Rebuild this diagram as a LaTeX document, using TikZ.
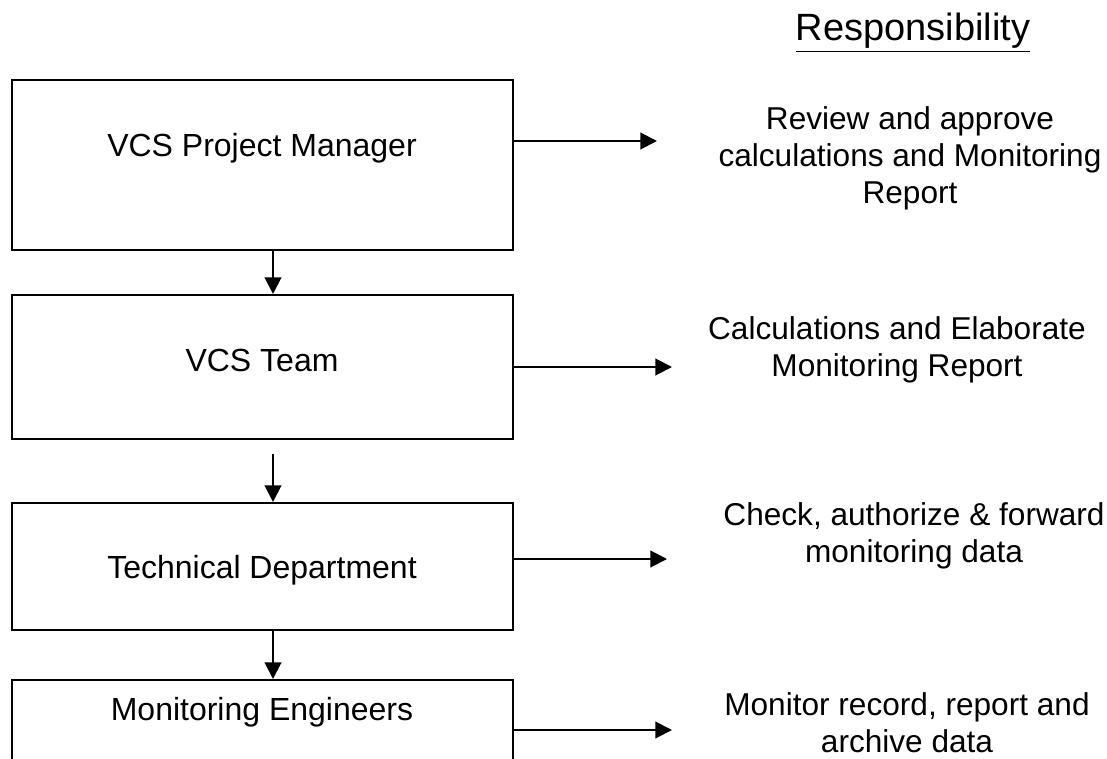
\documentclass[tikz,border=0pt]{standalone}
\usepackage{fontspec}
\setmainfont{Liberation Sans}
\usetikzlibrary{arrows.meta}
\begin{document}
\begin{tikzpicture}[x=0.5pt,y=-0.5pt,
  box/.style={draw, line width=1pt, rectangle, inner sep=0pt, minimum width=250.5pt, anchor=north west},
  boxtext/.style={font=\fontsize{16}{18.5}\selectfont, anchor=base, inner sep=0pt},
  resp/.style={font=\fontsize{15.8}{18.5}\selectfont, align=center, anchor=base, inner sep=0pt},
  arr/.style={-{Triangle[length=8.3pt,width=8.3pt]}, line width=1pt},
]
\clip (0,0) rectangle (1107,759);
% boxes
\node[box, minimum height=85pt] (b1) at (11,79) {};
\node[box, minimum height=72pt] (b2) at (11,294) {};
\node[box, minimum height=63.5pt] (b3) at (11,502) {};
\node[box, minimum height=65pt] (b4) at (11,679) {};
% box texts
\node[boxtext] (t1) at (262,157) {VCS Project Manager};
\node[boxtext] (t2) at (262,371) {VCS Team};
\node[boxtext] (t3) at (262,578) {Technical Department};
\node[boxtext] (t4) at (262,720) {Monitoring Engineers};
% heading
\node[font=\fontsize{19}{22}\selectfont, anchor=base, inner sep=0pt] (head) at (913,41) {\setlength{\fboxrule}{1pt}\underline{Responsibility}};
% responsibilities (base = baseline of last line)
\node[resp] (r1) at (910,204) {Review and approve\\calculations and Monitoring\\Report};
\node[resp] (r2) at (897,376) {Calculations and Elaborate\\Monitoring Report};
\node[resp] (r3) at (914,562) {Check, authorize \& forward\\monitoring data};
\node[resp] (r4) at (907,752) {Monitor record, report and\\archive data};
% horizontal arrows
\coordinate (e1) at (657,141);
\coordinate (e2) at (672,367);
\coordinate (e3) at (667,559);
\coordinate (e4) at (672,730);
\draw[arr] (b1.east |- e1) -- (e1);
\draw[arr] (b2.east |- e2) -- (e2);
\draw[arr] (b3.east |- e3) -- (e3);
\draw[arr] (b4.east |- e4) -- (e4);
% vertical arrows
\coordinate (v) at (273,0);
\coordinate (s2) at (273,454);
\draw[arr] (b1.south -| v) -- (b2.north -| v);
\draw[arr] (s2) -- (b3.north -| s2);
\draw[arr] (b3.south -| v) -- (b4.north -| v);
\end{tikzpicture}
\end{document}
